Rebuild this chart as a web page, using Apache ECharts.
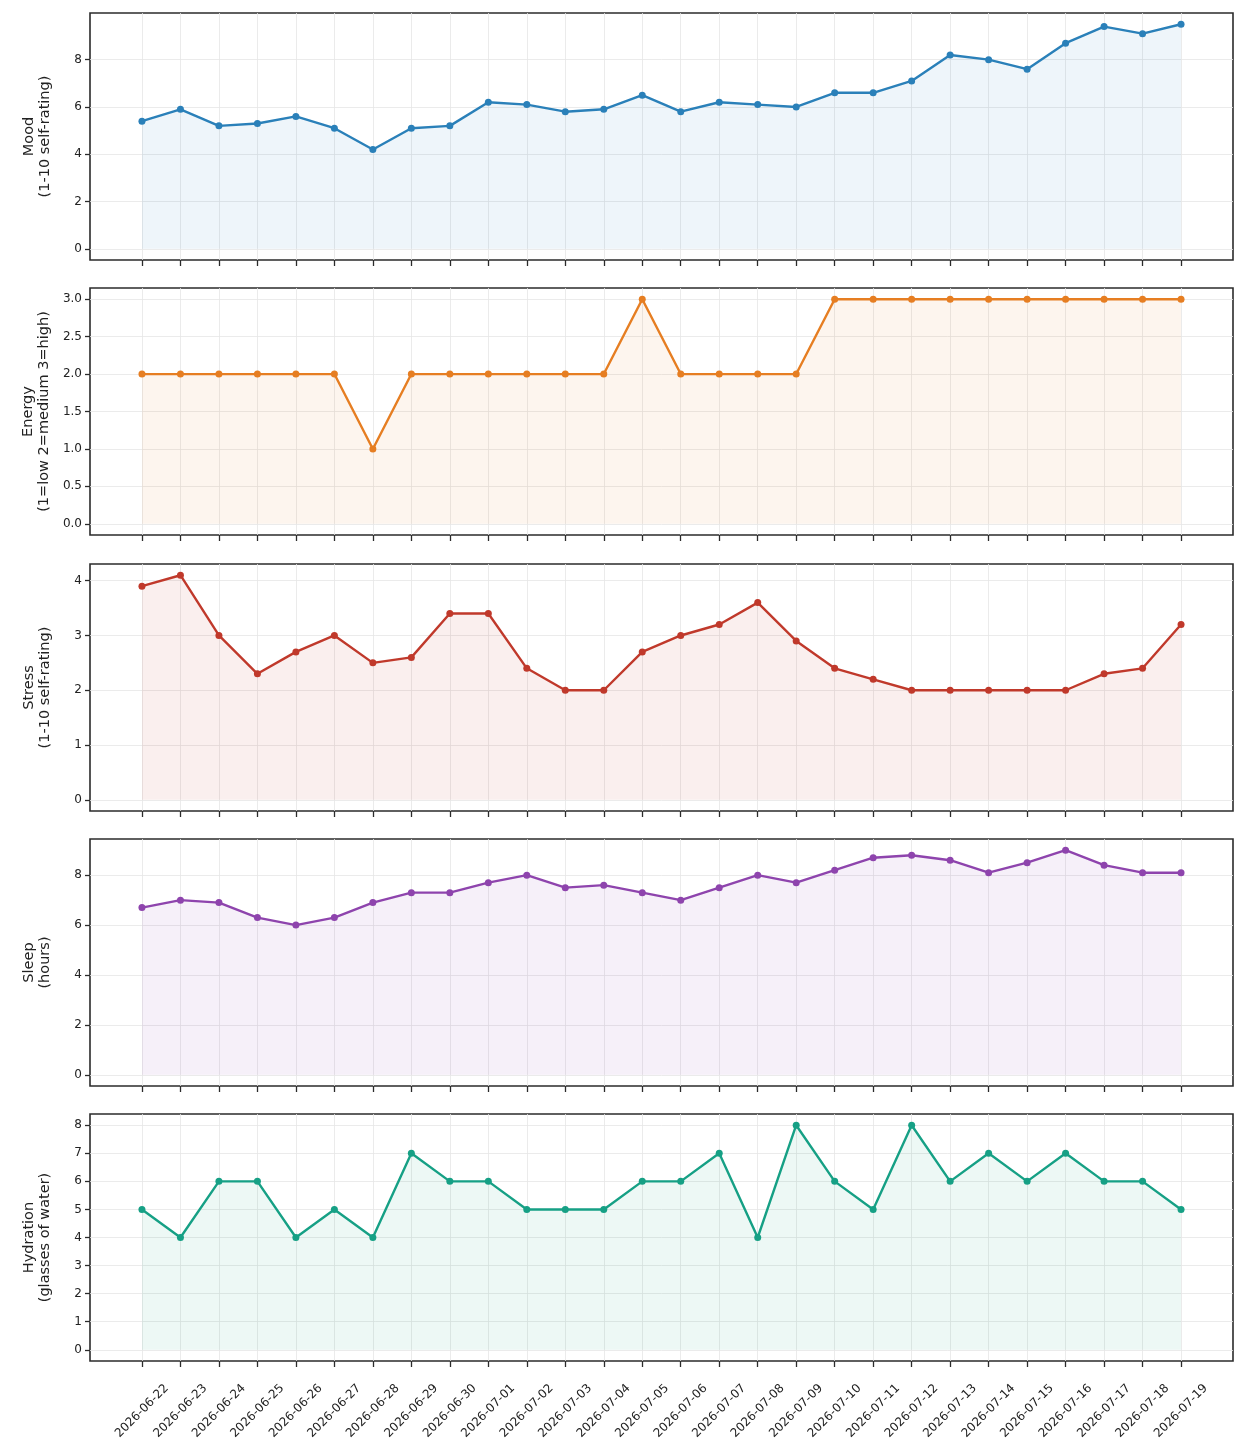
<!DOCTYPE html>
<html>
<head>
<meta charset="utf-8">
<script src="https://cdn.jsdelivr.net/npm/echarts@6/dist/echarts.min.js"></script>
<style>
    html, body { margin: 0; padding: 0; background: #fff; }
    #chart { width: 1248px; height: 1455px; }
</style>
</head>
<body>
<div id="chart"></div>
<script>
// daily log
var dates = ['2026-06-22', '2026-06-23', '2026-06-24', '2026-06-25', '2026-06-26', '2026-06-27', '2026-06-28',
    '2026-06-29', '2026-06-30', '2026-07-01', '2026-07-02', '2026-07-03', '2026-07-04', '2026-07-05',
    '2026-07-06', '2026-07-07', '2026-07-08', '2026-07-09', '2026-07-10', '2026-07-11', '2026-07-12',
    '2026-07-13', '2026-07-14', '2026-07-15', '2026-07-16', '2026-07-17', '2026-07-18', '2026-07-19'];
var mood = [5.4, 5.9, 5.2, 5.3, 5.6, 5.1, 4.2, 5.1, 5.2, 6.2, 6.1, 5.8, 5.9, 6.5,
    5.8, 6.2, 6.1, 6.0, 6.6, 6.6, 7.1, 8.2, 8.0, 7.6, 8.7, 9.4, 9.1, 9.5];
var energy = [2, 2, 2, 2, 2, 2, 1, 2, 2, 2, 2, 2, 2, 3,
    2, 2, 2, 2, 3, 3, 3, 3, 3, 3, 3, 3, 3, 3];
var stress = [3.9, 4.1, 3.0, 2.3, 2.7, 3.0, 2.5, 2.6, 3.4, 3.4, 2.4, 2.0, 2.0, 2.7,
    3.0, 3.2, 3.6, 2.9, 2.4, 2.2, 2.0, 2.0, 2.0, 2.0, 2.0, 2.3, 2.4, 3.2];
var sleep = [6.7, 7.0, 6.9, 6.3, 6.0, 6.3, 6.9, 7.3, 7.3, 7.7, 8.0, 7.5, 7.6, 7.3,
    7.0, 7.5, 8.0, 7.7, 8.2, 8.7, 8.8, 8.6, 8.1, 8.5, 9.0, 8.4, 8.1, 8.1];
var hydration = [5, 4, 6, 6, 4, 5, 4, 7, 6, 6, 5, 5, 5, 6,
    6, 7, 4, 8, 6, 5, 8, 6, 7, 6, 7, 6, 6, 5];

// y tick labels per panel
var moodTicks = [0, 2, 4, 6, 8];
var energyTicks = [0, 0.5, 1.0, 1.5, 2.0, 2.5, 3.0];
var stressTicks = [0, 1, 2, 3, 4];
var sleepTicks = [0, 2, 4, 6, 8];
var hydrationTicks = [0, 1, 2, 3, 4, 5, 6, 7, 8];

var panels = [
    { name: 'Mood\n(1-10 self-rating)', data: mood, ticks: moodTicks, color: '#2a80b9', digits: 0 },
    { name: 'Energy\n(1=low 2=medium 3=high)', data: energy, ticks: energyTicks, color: '#e67e22', digits: 1 },
    { name: 'Stress\n(1-10 self-rating)', data: stress, ticks: stressTicks, color: '#c0392b', digits: 0 },
    { name: 'Sleep\n(hours)', data: sleep, ticks: sleepTicks, color: '#8e44ad', digits: 0 },
    { name: 'Hydration\n(glasses of water)', data: hydration, ticks: hydrationTicks, color: '#16a085', digits: 0 }
];

var tops = [13, 288, 564, 839, 1114];
var panelH = 247;
var xIdx = dates.map(function (d, i) { return i; });
var xPad = (dates.length - 1) * 0.05;
var font = 'DejaVu Sans';

var grids = [], xAxes = [], yAxes = [], series = [];

panels.forEach(function (p, k) {
    var hi = Math.max.apply(null, p.data);
    var yPad = hi * 0.05;
    var isLast = k === panels.length - 1;

    grids.push({
        left: 90, right: 15, top: tops[k], height: panelH,
        show: true, borderColor: '#2b2b2b', borderWidth: 1.6, backgroundColor: 'transparent'
    });
    xAxes.push({
        type: 'value', gridIndex: k, position: 'bottom',
        min: -xPad, max: dates.length - 1 + xPad,
        axisLine: { show: false, onZero: false },
        axisTick: { show: true, customValues: xIdx, length: 6, lineStyle: { color: '#2b2b2b', width: 1.3 } },
        axisLabel: {
            show: isLast, customValues: xIdx, rotate: 45, align: 'center', verticalAlign: 'middle',
            margin: 50, fontFamily: font, fontSize: 12, color: '#222',
            formatter: function (v) { return dates[Math.round(v)]; }
        },
        splitLine: { show: true, lineStyle: { color: '#e6e6e6', width: 0.8 } }
    });
    yAxes.push({
        type: 'value', gridIndex: k, position: 'left',
        min: -yPad, max: hi + yPad,
        name: p.name, nameLocation: 'middle', nameRotate: 90, nameGap: 37,
        nameTextStyle: { fontFamily: font, fontSize: 14.5, color: '#222', lineHeight: 16 },
        axisLine: { show: false, onZero: false },
        axisTick: { show: true, customValues: p.ticks, length: 5, lineStyle: { color: '#2b2b2b', width: 1.3 } },
        axisLabel: {
            customValues: p.ticks, margin: 8, fontFamily: font, fontSize: 12, color: '#222',
            formatter: function (v) { return v.toFixed(p.digits); }
        },
        splitLine: { show: true, lineStyle: { color: '#e6e6e6', width: 0.8 } }
    });
    series.push({
        type: 'line', xAxisIndex: k, yAxisIndex: k,
        data: p.data.map(function (v, i) { return [i, v]; }),
        symbol: 'circle', symbolSize: 7,
        itemStyle: { color: p.color },
        lineStyle: { color: p.color, width: 2.4 },
        areaStyle: { color: p.color, opacity: 0.08, origin: 0 },
        animation: false
    });
});

var chart = echarts.init(document.getElementById('chart'));
chart.setOption({
    backgroundColor: '#fff',
    animation: false,
    grid: grids,
    xAxis: xAxes,
    yAxis: yAxes,
    series: series
});
</script>
</body>
</html>
